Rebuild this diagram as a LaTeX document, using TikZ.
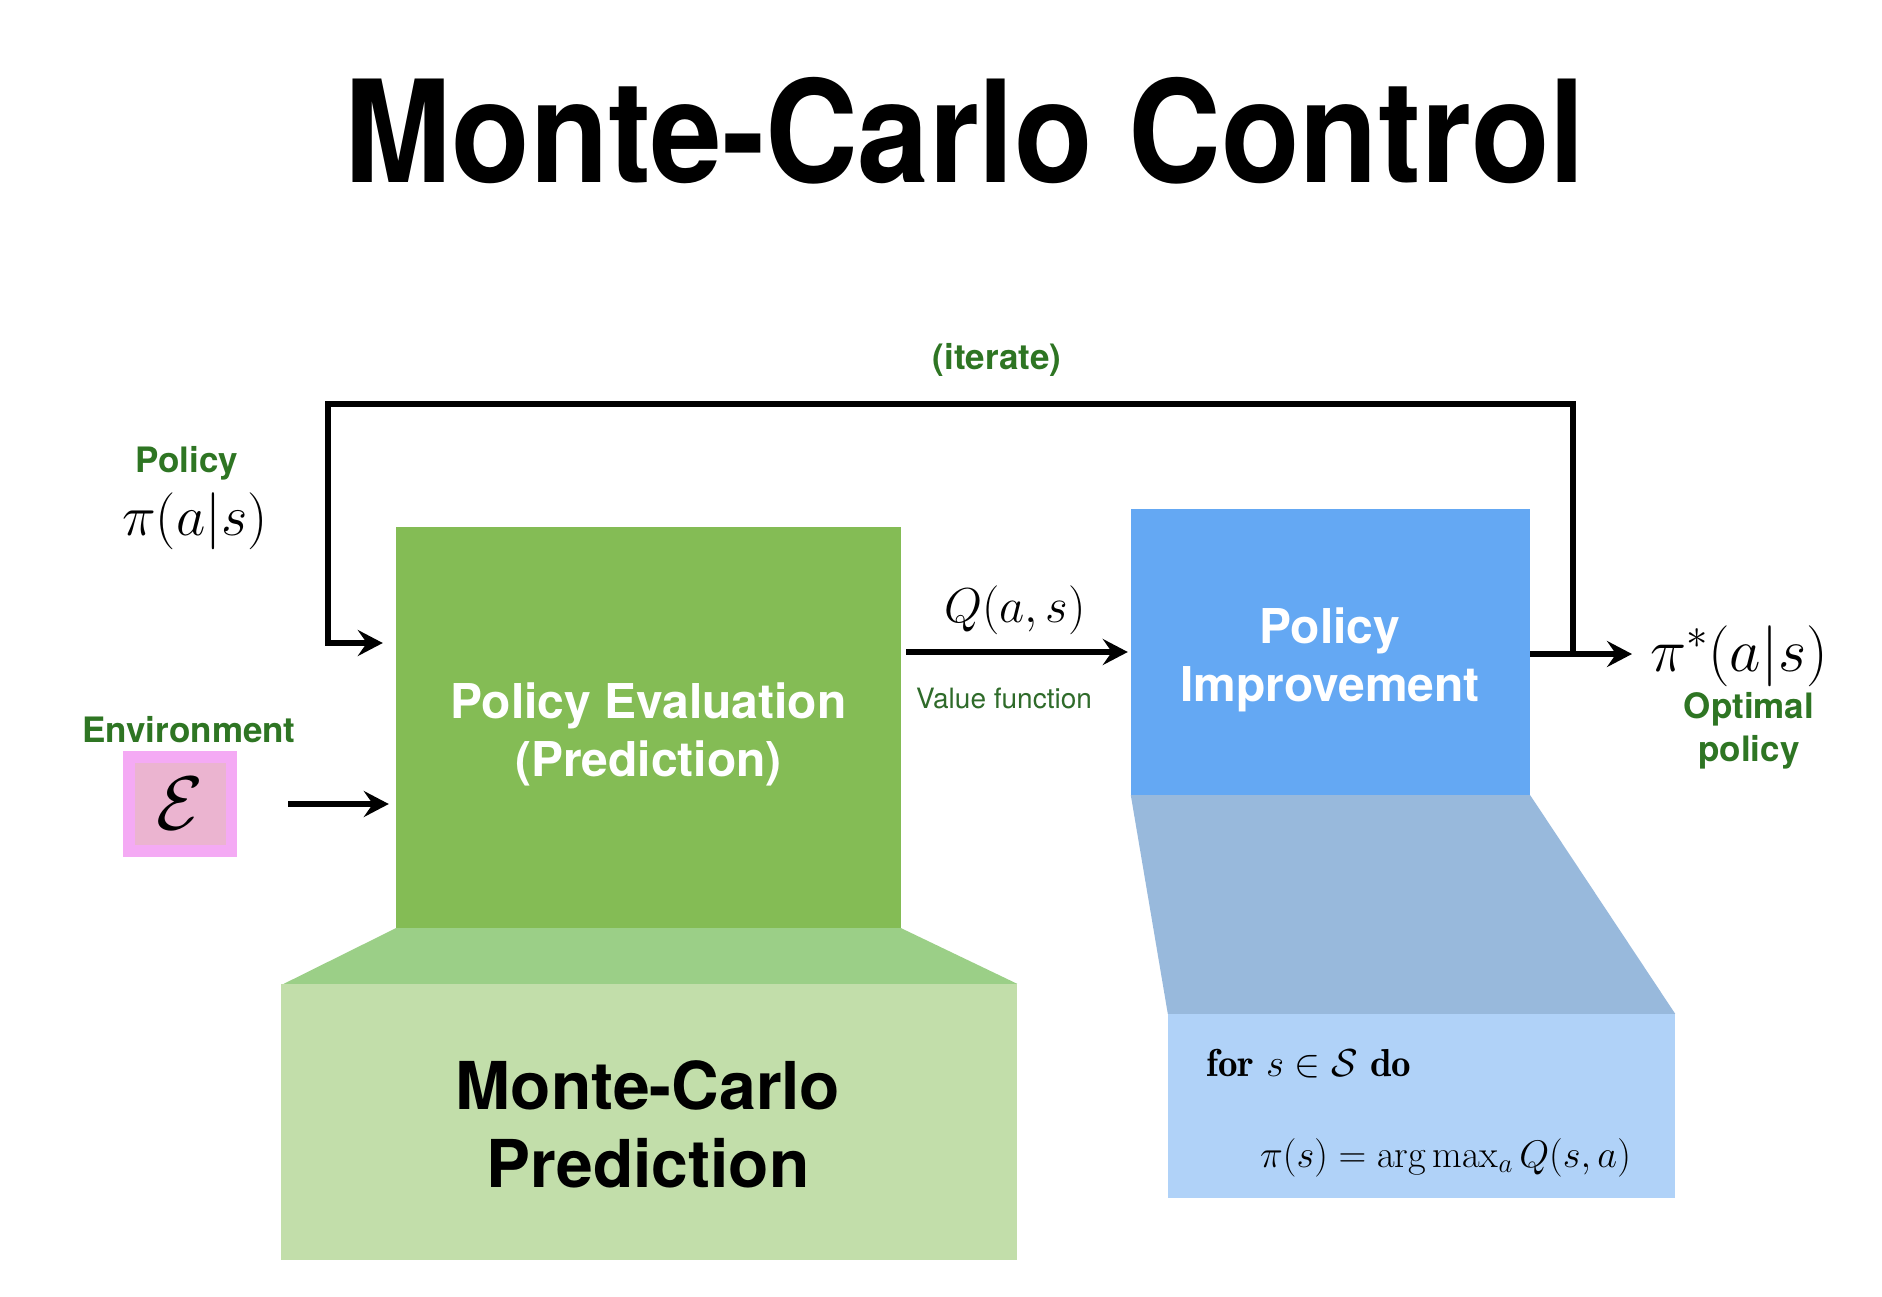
\documentclass[tikz,border=0pt]{standalone}
\usepackage{fix-cm}
\usepackage{graphicx}
\usepackage{fontspec}
\newfontfamily\hv{TeX Gyre Heros}
\usetikzlibrary{arrows.meta}
\definecolor{pegreen}{HTML}{84BC55}
\definecolor{trapgreen}{HTML}{9BCF87}
\definecolor{mcgreen}{HTML}{C2DEAA}
\definecolor{piblue}{HTML}{64A8F3}
\definecolor{trapblue}{HTML}{98B9DC}
\definecolor{algblue}{HTML}{B0D2F8}
\definecolor{lblgreen}{HTML}{2E7523}
\definecolor{vfgreen}{HTML}{2F6B2A}
\definecolor{pinkout}{HTML}{F4AAF4}
\definecolor{pinkin}{HTML}{EBB4D0}
\tikzset{
  boxtext/.style={text=white, align=center, font=\hv\bfseries\fontsize{48}{58}\selectfont},
  lbl/.style={text=lblgreen, inner sep=0pt, font=\hv\bfseries\fontsize{35}{43}\selectfont},
  mathlbl/.style={inner sep=0pt},
  arr/.style={line width=5.5pt, -{Stealth[length=25pt,width=26pt,inset=9pt]}},
}
\begin{document}
\begin{tikzpicture}[x=1pt,y=-1pt]
\useasboundingbox[fill=white] (0,0) rectangle (1882,1296);

% title
\node[anchor=base, inner sep=0pt] (title) at (965,182)
  {\scalebox{0.905}[1]{\hv\bfseries\fontsize{142}{150}\selectfont Monte-Carlo Control}};

% main boxes
\node[fill=pegreen, minimum width=505pt, minimum height=401pt, boxtext,
      text depth=0pt] (pe) at (648.5,727.5) {};
\node[boxtext, inner sep=0pt] (petext) at (648.5,734) {Policy Evaluation\\(Prediction)};
\node[fill=mcgreen, minimum width=736pt, minimum height=276pt] (mc) at (649,1122) {};
\node[align=center, inner sep=0pt, font=\hv\bfseries\fontsize{66}{78}\selectfont] (mctext) at (648,1124)
  {Monte-Carlo\\Prediction};
\node[fill=piblue, minimum width=399pt, minimum height=286pt] (pi) at (1330.5,652) {};
\node[boxtext, inner sep=0pt] (pitext) at (1330,660) {Policy\\Improvement};
\node[fill=algblue, minimum width=507pt, minimum height=184pt] (alg) at (1421.5,1106) {};

% connecting trapezoids
\fill[trapgreen] (pe.south west) -- (pe.south east) -- (mc.north east) -- ([xshift=3pt]mc.north west) -- cycle;
\fill[trapblue] (pi.south west) -- (pi.south east) -- (alg.north east) -- (alg.north west) -- cycle;

% algorithm text
\node[anchor=base west, inner sep=0pt, font=\fontsize{39}{44}\selectfont] (for1) at (1206,1076)
  {$\mathbf{for}\ s\in\mathcal{S}\ \mathbf{do}$};
\node[anchor=base west, inner sep=0pt, font=\fontsize{38.5}{44}\selectfont] (for2) at (1260,1167)
  {$\pi(s) = \arg\max_a Q(s,a)$};

% environment
\node[fill=pinkout, minimum width=114pt, minimum height=106pt, inner sep=0pt] (envo) at (180,804) {};
\node[fill=pinkin, minimum width=91pt, minimum height=82pt, inner sep=0pt,
      font=\fontsize{76}{80}\selectfont] (env) at (envo.center) {$\mathcal{E}$};
\node[lbl, anchor=base] (envlbl) at (189,742) {Environment};

% policy input
\node[lbl, anchor=base] (pollbl) at (187,472) {Policy};
\node[mathlbl, anchor=base, font=\fontsize{57}{60}\selectfont] (pol) at (195,535) {$\pi(a|s)$};

% Q label
\node[mathlbl, anchor=base, font=\fontsize{49}{54}\selectfont] (qlbl) at (1015,622) {$Q(a,s)$};
\node[inner sep=0pt, anchor=base, text=vfgreen, font=\hv\fontsize{28}{30}\selectfont] (vf) at (1004,708) {Value function};

% output
\node[mathlbl, anchor=base west, font=\fontsize{61}{66}\selectfont] (pistar) at (1650,671) {$\pi^*(a|s)$};
\node[lbl, anchor=north, align=center] (opt) at (1749,692) {Optimal\\policy};

% iterate label
\node[lbl, anchor=base] (it) at (997,369) {(iterate)};

% connectors
\coordinate (o1) at ([yshift=-2pt]pi.east);
\coordinate (jn) at ([xshift=43pt]o1);
\coordinate (tl) at (328,404);
\coordinate (lp) at ([yshift=84.5pt]pe.west);
\draw[arr, shorten >=18pt] (o1) -- (o1 -| pistar.west);
\draw[arr, shorten >=13pt] (jn) -- (jn |- tl) -- (tl) -- (tl |- lp) -- (lp);
\draw[arr, shorten <=5pt, shorten >=3pt] (pe.east |- pi.west) -- (pi.west);
\draw[arr, shorten <=51pt, shorten >=7pt] (envo.east) -- (envo.east -| pe.west);
\end{tikzpicture}
\end{document}
